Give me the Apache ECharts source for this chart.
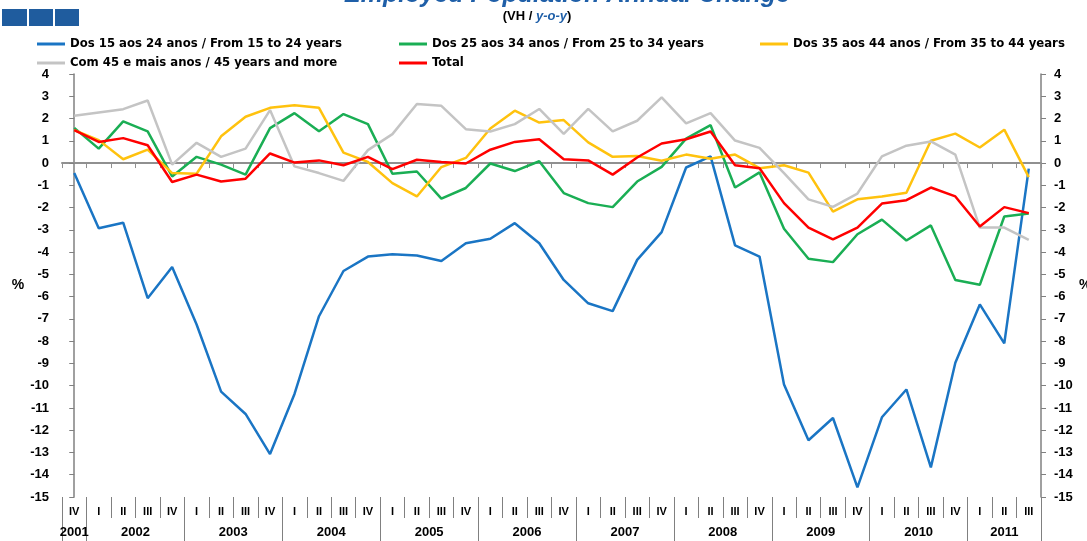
<!DOCTYPE html>
<html>
<head>
<meta charset="utf-8">
<script src="https://cdn.jsdelivr.net/npm/echarts@6/dist/echarts.min.js"></script>
<style>
  html, body { margin: 0; padding: 0; background: #fff; }
  #chart { width: 1087px; height: 541px; }
</style>
</head>
<body>
<div id="chart"></div>
<script>
// quarters 2001 IV .. 2011 III
const quarters = ['IV',
  'I', 'II', 'III', 'IV', 'I', 'II', 'III', 'IV', 'I', 'II', 'III', 'IV',
  'I', 'II', 'III', 'IV', 'I', 'II', 'III', 'IV', 'I', 'II', 'III', 'IV',
  'I', 'II', 'III', 'IV', 'I', 'II', 'III', 'IV', 'I', 'II', 'III', 'IV',
  'I', 'II', 'III']
const years = ['2001', '2002', '2003', '2004', '2005', '2006', '2007', '2008', '2009', '2010', '2011']
const yearCenters = [0, 2.5, 6.5, 10.5, 14.5, 18.5, 22.5, 26.5, 30.5, 34.5, 38]
const yearBounds = [-0.5, 0.5, 4.5, 8.5, 12.5, 16.5, 20.5, 24.5, 28.5, 32.5, 36.5, 39.5]
const yTicks = { min: -15, max: 4, interval: 1 }

const names = [
  'Dos 15 aos 24 anos / From 15 to 24 years',
  'Dos 25 aos 34 anos / From 25 to 34 years',
  'Dos 35 aos 44 anos / From 35 to 44 years',
  'Com 45 e mais anos / 45 years and more',
  'Total',
]

const age15to24 = [-0.45, -2.93, -2.68, -6.07, -4.67, -7.25, -10.27, -11.27, -13.07, -10.37,
  -6.88, -4.85, -4.2, -4.1, -4.15, -4.4, -3.6, -3.4, -2.7, -3.6,
  -5.25, -6.3, -6.65, -4.35, -3.1, -0.2, 0.3, -3.7, -4.2, -9.95,
  -12.45, -11.45, -14.57, -11.42, -10.17, -13.67, -8.97, -6.35, -8.1, -0.25]
const age25to34 = [1.58, 0.65, 1.87, 1.42, -0.6, 0.28, -0.07, -0.52, 1.57, 2.24,
  1.43, 2.2, 1.75, -0.48, -0.38, -1.6, -1.12, -0.02, -0.36, 0.08,
  -1.35, -1.8, -1.98, -0.83, -0.17, 1.1, 1.7, -1.1, -0.42, -2.95,
  -4.3, -4.45, -3.2, -2.54, -3.48, -2.8, -5.25, -5.47, -2.4, -2.27]
const age35to44 = [1.48, 1.03, 0.17, 0.6, -0.45, -0.48, 1.2, 2.08, 2.48, 2.6,
  2.48, 0.47, 0.05, -0.9, -1.5, -0.18, 0.23, 1.55, 2.35, 1.82,
  1.93, 0.93, 0.28, 0.32, 0.1, 0.38, 0.19, 0.38, -0.23, -0.1,
  -0.43, -2.18, -1.63, -1.5, -1.33, 1.0, 1.32, 0.7, 1.5, -0.63]
const age45plus = [2.12, 2.27, 2.42, 2.81, -0.07, 0.91, 0.28, 0.65, 2.38, -0.15,
  -0.45, -0.8, 0.58, 1.3, 2.65, 2.57, 1.52, 1.42, 1.75, 2.43,
  1.31, 2.43, 1.42, 1.9, 2.95, 1.78, 2.24, 1.01, 0.68, -0.45,
  -1.63, -1.97, -1.37, 0.3, 0.78, 0.97, 0.38, -2.9, -2.9, -3.45]
const total = [1.48, 0.95, 1.12, 0.8, -0.85, -0.52, -0.83, -0.7, 0.43, 0.02,
  0.12, -0.1, 0.28, -0.27, 0.15, 0.05, -0.02, 0.6, 0.95, 1.07,
  0.17, 0.12, -0.52, 0.25, 0.88, 1.07, 1.42, -0.1, -0.23, -1.8,
  -2.9, -3.43, -2.9, -1.82, -1.67, -1.1, -1.5, -2.85, -1.98, -2.25]

const colors = ['#1a75c4', '#1aae54', '#ffc20e', '#c4c4c4', '#ff0000']
const seriesData = [age15to24, age25to34, age35to44, age45plus, total]

const axisGray = '#808080'
const labelFont = { color: '#000', fontWeight: 'bold', fontSize: 13, fontFamily: 'Arial, "Liberation Sans", sans-serif' }
const legendText = {
  color: '#000', fontWeight: 'bold', fontSize: 13, lineHeight: 14,
  fontFamily: '"Liberation Sans Narrow", "Arial Narrow", "DejaVu Sans Condensed", sans-serif',
}

function legendAt(left, data) {
  return {
    left, top: 37, orient: 'vertical', itemGap: 5, padding: 0,
    itemWidth: 28, itemHeight: 3, icon: 'rect',
    data, textStyle: legendText, selectedMode: false,
  }
}

function yAxisAt(position, nameGap) {
  return {
    type: 'value', position, ...yTicks,
    name: '%', nameLocation: 'middle', nameRotate: 0, nameGap,
    nameTextStyle: { ...labelFont, fontSize: 14 },
    axisLine: { show: true, lineStyle: { color: axisGray, width: 1.5 } },
    axisTick: { show: true, length: 5, lineStyle: { color: axisGray } },
    axisLabel: { ...labelFont, margin: 13 },
    splitLine: { show: false },
  }
}

const chart = echarts.init(document.getElementById('chart'))
chart.setOption({
  animation: false,
  backgroundColor: '#fff',
  graphic: [
    { type: 'rect', shape: { x: 2, y: 9, width: 25, height: 17 }, style: { fill: '#1f5c9e' } },
    { type: 'rect', shape: { x: 29, y: 9, width: 24, height: 17 }, style: { fill: '#1f5c9e' } },
    { type: 'rect', shape: { x: 55, y: 9, width: 24, height: 17 }, style: { fill: '#1f5c9e' } },
    {
      type: 'text', x: 567, y: -17,
      style: {
        text: 'Employed Population Annual Change', fill: '#1f5fa8',
        font: 'italic bold 25px Arial, "Liberation Sans", sans-serif',
        align: 'center', verticalAlign: 'top',
      },
    },
    {
      type: 'text', x: 537, y: 16,
      style: {
        text: '{a|(VH / }{b|y-o-y}{a|)}',
        align: 'center', verticalAlign: 'middle',
        rich: {
          a: { fontWeight: 'bold', fontSize: 13, fill: '#000', fontFamily: 'Arial, sans-serif' },
          b: { fontWeight: 'bold', fontStyle: 'italic', fontSize: 13, fill: '#1f5fa8', fontFamily: 'Arial, sans-serif' },
        },
      },
    },
  ],
  legend: [
    legendAt(37, [names[0], names[3]]),
    legendAt(399, [names[1], names[4]]),
    legendAt(760, [names[2]]),
  ],
  grid: { left: 62, right: 46, top: 74, bottom: 44, containLabel: false, outerBoundsMode: 'none' },
  xAxis: [
    {
      type: 'category', data: quarters, position: 'bottom',
      axisLine: { onZero: true, lineStyle: { color: '#909090', width: 2 } },
      axisTick: { show: true, interval: 0, length: 5, lineStyle: { color: '#909090' } },
      axisLabel: { show: false },
    },
    {
      type: 'category', data: quarters, position: 'bottom',
      axisLine: { show: false, onZero: false },
      axisTick: { show: true, interval: 0, length: 21, lineStyle: { color: axisGray } },
      axisLabel: { interval: 0, margin: 9, ...labelFont, fontSize: 11 },
    },
    {
      type: 'value', position: 'bottom', min: -0.5, max: 39.5,
      axisLine: { show: false, onZero: false },
      splitLine: { show: false },
      axisTick: { show: true, customValues: yearBounds, length: 44, lineStyle: { color: axisGray } },
      axisLabel: {
        customValues: yearCenters, margin: 29, ...labelFont,
        formatter: v => years[yearCenters.indexOf(v)] || '',
      },
    },
  ],
  yAxis: [yAxisAt('left', 37), yAxisAt('right', 38)],
  series: names.map((name, i) => ({
    name, type: 'line', data: seriesData[i],
    xAxisIndex: 0, yAxisIndex: 0,
    symbol: 'none', color: colors[i],
    lineStyle: { width: 2.5, color: colors[i] },
  })),
})
</script>
</body>
</html>
